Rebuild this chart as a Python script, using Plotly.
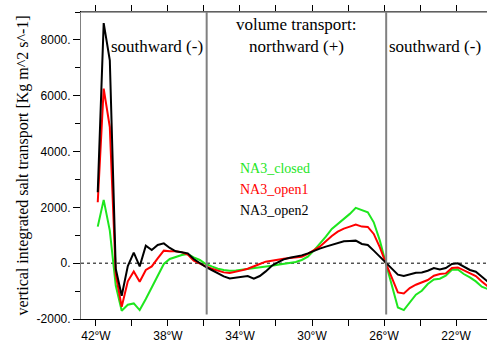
import plotly.graph_objects as go

lon = [-41.9, -41.57, -41.23, -40.9, -40.57, -40.23, -39.9, -39.57, -39.23, -38.9,
       -38.57, -38.23, -37.9, -37.57, -37.23, -36.9, -36.57, -36.23, -35.9, -35.57,
       -35.23, -34.9, -34.57, -34.23, -33.9, -33.57, -33.23, -32.9, -32.57, -32.23,
       -31.9, -31.57, -31.23, -30.9, -30.57, -30.23, -29.9, -29.57, -29.23, -28.9,
       -28.57, -28.23, -27.9, -27.57, -27.23, -26.9, -26.57, -26.23, -25.9, -25.57,
       -25.23, -24.9, -24.57, -24.23, -23.9, -23.57, -23.23, -22.9, -22.57, -22.23,
       -21.9, -21.57, -21.23, -20.9, -20.57, -20.23]

na3_closed = [1310, 2269, 1167, -800, -1705, -1490, -1443, -1680, -1285, -869,
              -424, -29, 151, 233, 294, 330, 208, 115, -29, -115,
              -197, -244, -269, -258, -233, -208, -187, -151, -115, -90,
              -54, -29, 7, 43, 115, 233, 449, 689, 951, 1228,
              1407, 1587, 1766, 1982, 1910, 1824, 1465, 808, 0, -747,
              -1587, -1680, -1407, -1131, -987, -747, -582, -556, -449, -233,
              -223, -388, -510, -653, -844, -926]

na3_open1 = [2183, 6254, 4875, -400, -1562, -650, -294, -664, -244, -115,
             172, 449, 424, 424, 388, 305, 90, -29, -115, -197,
             -269, -330, -352, -316, -258, -197, -126, -29, 54, 100,
             136, 162, 187, 208, 233, 330, 449, 592, 783, 976,
             1131, 1239, 1310, 1382, 1310, 1300, 1048, 567, 0, -510,
             -1048, -1084, -890, -772, -700, -603, -449, -388, -366, -172,
             -151, -244, -366, -460, -653, -833]

na3_open2 = [2542, 8600, 7270, -200, -1167, -100, 377, -115, 628, 474,
             653, 711, 546, 424, 388, 352, 151, -7, -136, -244,
             -352, -474, -546, -521, -485, -460, -556, -460, -294, -90,
             29, 136, 197, 233, 280, 352, 449, 520, 592, 664,
             736, 783, 797, 808, 689, 653, 449, 233, 0, -208,
             -413, -460, -388, -341, -330, -269, -172, -223, -172, -29,
             -7, -126, -244, -305, -485, -664]

x_tickvals = [-42, -40, -38, -36, -34, -32, -30, -28, -26, -24, -22, -20]
x_ticktext = ["42°W", "", "38°W", "", "34°W", "", "30°W", "", "26°W", "", "22°W", ""]
y_tickvals = [-2000, 0, 2000, 4000, 6000, 8000]
y_ticktext = ["-2000.", "0.", "2000.", "4000.", "6000.", "8000."]

series = [("NA3_closed", na3_closed, "#1ee61e"),
          ("NA3_open1", na3_open1, "#ff0000"),
          ("NA3_open2", na3_open2, "#000000")]

fig = go.Figure()
for name, vals, col in series:
    fig.add_trace(go.Scatter(x=lon, y=vals, mode="lines", name=name,
                             line=dict(color=col, width=2), showlegend=False))

serif = "Liberation Serif"
sans = "Liberation Sans"

fig.update_layout(
    width=487, height=345,
    margin=dict(l=81, r=0, t=12, b=26, autoexpand=False),
    paper_bgcolor="white", plot_bgcolor="white",
    xaxis=dict(range=[-42.83, -20.28], tickvals=x_tickvals, ticktext=x_ticktext,
               ticks="outside", ticklen=6, tickcolor="black", tickwidth=1,
               showline=True, linecolor="black", linewidth=1, mirror="ticks",
               showgrid=False, zeroline=False, automargin=False,
               tickfont=dict(family=sans, size=12, color="black")),
    yaxis=dict(range=[-2000, 9000], tickvals=y_tickvals, ticktext=y_ticktext,
               ticks="outside", ticklen=7, tickcolor="black", tickwidth=1,
               minor=dict(dtick=1000, tick0=0, ticks="outside", ticklen=5, tickcolor="black", showgrid=False),
               showline=True, linecolor="#808080", linewidth=1,
               showgrid=False, zeroline=False, automargin=False,
               tickfont=dict(family=sans, size=12, color="black"),
               title=dict(text="vertical integrated salt transport [Kg m^2 s^-1]",
                          font=dict(family=serif, size=16, color="black"), standoff=3)),
)

# top frame line (gray) over the mirrored line
fig.add_shape(type="line", xref="paper", yref="paper", x0=0, x1=1, y0=1, y1=1,
              line=dict(color="#808080", width=1.5), layer="above")
# zero reference line
fig.add_shape(type="line", xref="paper", yref="y", x0=0, x1=1, y0=0, y1=0,
              line=dict(color="black", width=1, dash="dot"), layer="below")
# region separators
for xv in [-35.85, -25.88]:
    fig.add_shape(type="line", xref="x", yref="paper", x0=xv, x1=xv, y0=0.015, y1=1,
                  line=dict(color="#808080", width=2), layer="above")

texts = [
    (-38.6, 7780, "southward (-)"),
    (-30.88, 7780, "northward (+)"),
    (-30.88, 8545, "volume transport:"),
    (-23.15, 7780, "southward (-)"),
]
for xv, yv, t in texts:
    fig.add_annotation(x=xv, y=yv, xref="x", yref="y", text=t, showarrow=False,
                       font=dict(family=serif, size=17, color="black"), xanchor="center", yanchor="middle")

legend_y = [3390, 2640, 1885]
for (name, vals, col), yv in zip(series, legend_y):
    fig.add_annotation(x=-34.1, y=yv, xref="x", yref="y", text=name, showarrow=False,
                       font=dict(family=serif, size=14, color=col), xanchor="left", yanchor="middle")

fig.write_html("out.html",
               config={"displayModeBar": False},
               post_script="document.body.style.margin='0';document.documentElement.style.overflow='hidden';document.body.style.overflow='hidden';")
